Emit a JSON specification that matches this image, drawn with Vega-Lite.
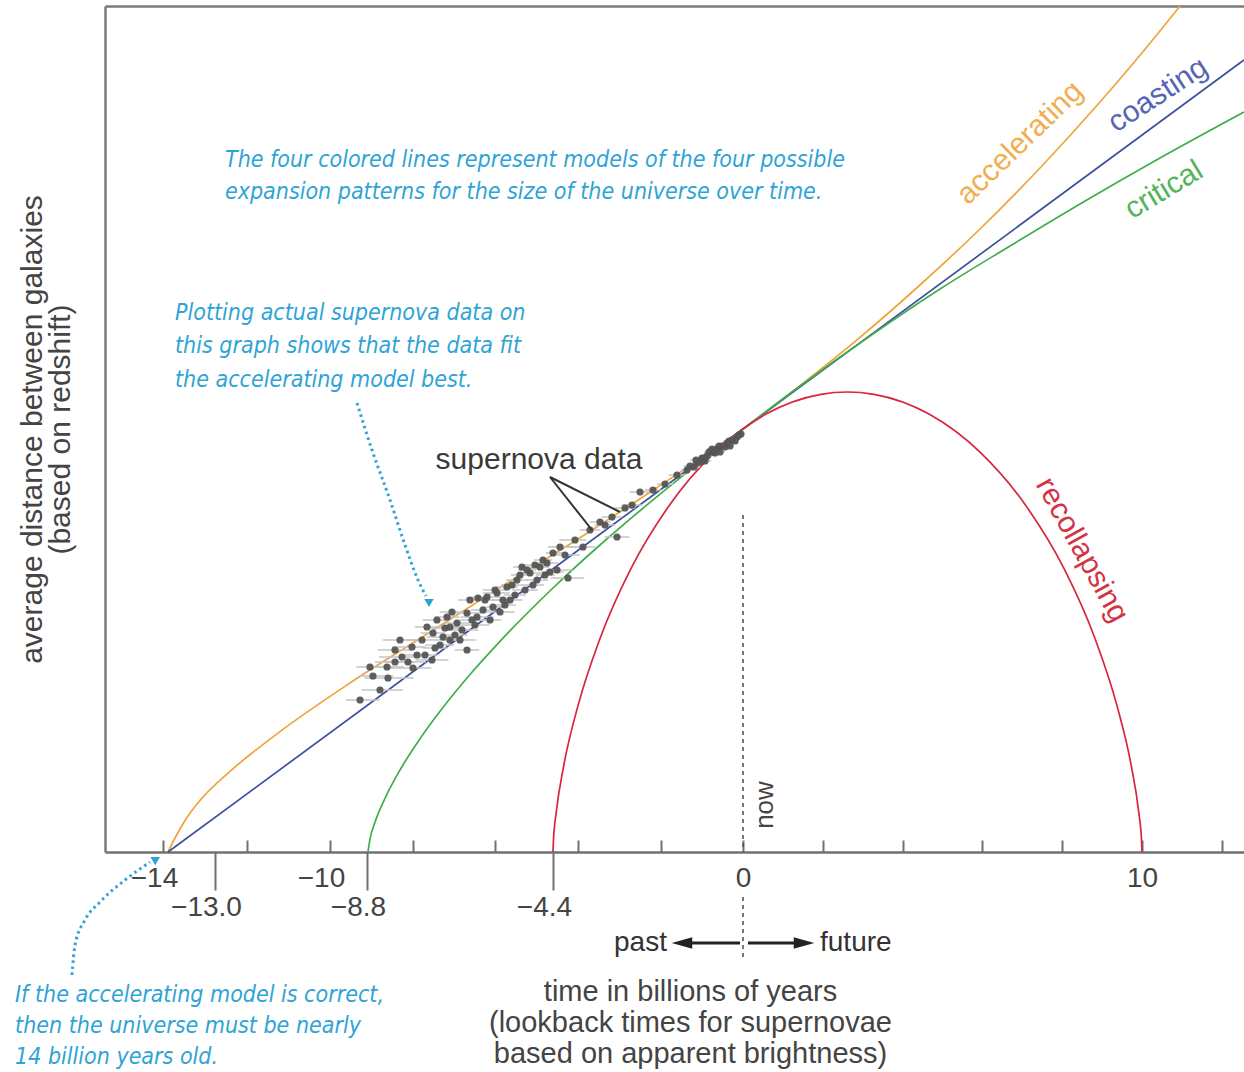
{
  "$schema": "https://vega.github.io/schema/vega-lite/v6.json",
  "width": 1139,
  "height": 846,
  "autosize": {"type": "none"},
  "padding": {"left": 105, "top": 6, "right": 0, "bottom": 220},
  "background": "white",
  "config": {"view": {"stroke": null}, "font": "Liberation Sans"},
  "datasets": {
    "models": [
      {"model":"accelerating","t":-13.904,"d":0},{"model":"accelerating","t":-13.769,"d":14},{"model":"accelerating","t":-13.577,"d":31.5},{"model":"accelerating","t":-13.288,"d":51.6},{"model":"accelerating","t":-12.531,"d":80.6},{"model":"accelerating","t":-11.205,"d":120.4},{"model":"accelerating","t":-9.351,"d":169},{"model":"accelerating","t":-7.829,"d":213.5},{"model":"accelerating","t":-5.862,"d":264.4},{"model":"accelerating","t":-3.952,"d":314.2},{"model":"accelerating","t":-2.265,"d":359.8},{"model":"accelerating","t":-1.049,"d":393.1},{"model":"accelerating","t":0,"d":423},{"model":"accelerating","t":1.429,"d":466.4},{"model":"accelerating","t":2.932,"d":514.6},{"model":"accelerating","t":4.436,"d":567},{"model":"accelerating","t":5.94,"d":623},{"model":"accelerating","t":7.444,"d":684},{"model":"accelerating","t":8.947,"d":750},{"model":"accelerating","t":10.45,"d":821},{"model":"accelerating","t":10.95,"d":846},
      {"model":"coasting","t":-13.904,"d":0},{"model":"coasting","t":0,"d":423},{"model":"coasting","t":12.55,"d":792},
      {"model":"critical","t":-8.783,"d":0},{"model":"critical","t":-8.748,"d":12.9},{"model":"critical","t":-8.661,"d":29.8},{"model":"critical","t":-8.487,"d":53.7},{"model":"critical","t":-8.226,"d":82},{"model":"critical","t":-7.829,"d":113.3},{"model":"critical","t":-7.341,"d":140.7},{"model":"critical","t":-6.61,"d":177.5},{"model":"critical","t":-5.862,"d":210.7},{"model":"critical","t":-4.4,"d":264},{"model":"critical","t":-3.47,"d":307},{"model":"critical","t":-2.265,"d":349.6},{"model":"critical","t":-1.049,"d":389.9},{"model":"critical","t":0,"d":423},{"model":"critical","t":1.429,"d":466},{"model":"critical","t":3.183,"d":516},{"model":"critical","t":4.937,"d":563},{"model":"critical","t":6.692,"d":606},{"model":"critical","t":8.446,"d":648},{"model":"critical","t":10.45,"d":694},{"model":"critical","t":12.55,"d":740},
      {"model":"recollapsing","t":-4.4,"d":0},{"model":"recollapsing","t":-4.394,"d":10.3},{"model":"recollapsing","t":-4.347,"d":40.2},{"model":"recollapsing","t":-4.226,"d":87},{"model":"recollapsing","t":-3.998,"d":146.6},{"model":"recollapsing","t":-3.467,"d":213.7},{"model":"recollapsing","t":-2.737,"d":282.3},{"model":"recollapsing","t":-1.807,"d":346.1},{"model":"recollapsing","t":-0.69,"d":399.6},{"model":"recollapsing","t":0,"d":423},{"model":"recollapsing","t":0.576,"d":437.9},{"model":"recollapsing","t":1.955,"d":457.7},{"model":"recollapsing","t":2.619,"d":460},{"model":"recollapsing","t":3.283,"d":457.7},{"model":"recollapsing","t":4.662,"d":437.9},{"model":"recollapsing","t":5.947,"d":399.6},{"model":"recollapsing","t":7.095,"d":346.1},{"model":"recollapsing","t":8.06,"d":282.3},{"model":"recollapsing","t":8.82,"d":213.7},{"model":"recollapsing","t":9.371,"d":146.6},{"model":"recollapsing","t":9.727,"d":87},{"model":"recollapsing","t":9.917,"d":40.2},{"model":"recollapsing","t":9.99,"d":10.3},{"model":"recollapsing","t":10,"d":0}
    ],
    "sn": [
      {"t":-9.027,"d":152,"t_lo":-9.477,"t_hi":-8.577},{"t":-8.748,"d":185,"t_lo":-9.148,"t_hi":-8.348},{"t":-8.696,"d":176,"t_lo":-9.046,"t_hi":-8.346},{"t":-8.452,"d":185,"t_lo":-8.752,"t_hi":-8.152},{"t":-8.435,"d":174,"t_lo":-8.885,"t_hi":-7.985},{"t":-8.226,"d":212,"t_lo":-8.526,"t_hi":-7.926},{"t":-8.191,"d":195,"t_lo":-8.591,"t_hi":-7.791},{"t":-8.017,"d":205,"t_lo":-8.367,"t_hi":-7.667},{"t":-7.902,"d":197,"t_lo":-8.202,"t_hi":-7.602},{"t":-8.0,"d":184,"t_lo":-8.45,"t_hi":-7.55},
      {"t":-7.537,"d":192,"t_lo":-7.937,"t_hi":-7.137},{"t":-7.659,"d":225,"t_lo":-7.959,"t_hi":-7.359},{"t":-7.415,"d":232,"t_lo":-7.765,"t_hi":-7.065},{"t":-7.512,"d":219,"t_lo":-7.812,"t_hi":-7.212},{"t":-7.268,"d":215,"t_lo":-7.668,"t_hi":-6.868},{"t":-7.171,"d":235,"t_lo":-7.471,"t_hi":-6.871},{"t":-7.098,"d":225,"t_lo":-7.448,"t_hi":-6.748},{"t":-6.927,"d":229,"t_lo":-7.227,"t_hi":-6.627},{"t":-6.805,"d":222,"t_lo":-7.205,"t_hi":-6.405},{"t":-6.683,"d":239,"t_lo":-7.033,"t_hi":-6.333},
      {"t":-6.61,"d":252,"t_lo":-6.91,"t_hi":-6.31},{"t":-6.439,"d":235,"t_lo":-6.839,"t_hi":-6.039},{"t":-6.293,"d":242,"t_lo":-6.593,"t_hi":-5.993},{"t":-6.195,"d":255,"t_lo":-6.545,"t_hi":-5.845},{"t":-6.049,"d":245,"t_lo":-6.349,"t_hi":-5.749},{"t":-5.945,"d":259,"t_lo":-6.295,"t_hi":-5.595},{"t":-5.862,"d":240,"t_lo":-6.262,"t_hi":-5.462},{"t":-5.669,"d":265,"t_lo":-5.969,"t_hi":-5.369},{"t":-5.586,"d":252,"t_lo":-5.936,"t_hi":-5.236},{"t":-5.393,"d":272,"t_lo":-5.693,"t_hi":-5.093},
      {"t":-5.255,"d":285,"t_lo":-5.505,"t_hi":-5.005},{"t":-5.172,"d":262,"t_lo":-5.522,"t_hi":-4.822},{"t":-5.034,"d":279,"t_lo":-5.334,"t_hi":-4.734},{"t":-4.841,"d":272,"t_lo":-5.141,"t_hi":-4.541},{"t":-4.759,"d":285,"t_lo":-5.009,"t_hi":-4.509},{"t":-4.566,"d":289,"t_lo":-4.816,"t_hi":-4.316},{"t":-4.4,"d":299,"t_lo":-4.6,"t_hi":-4.2},{"t":-4.336,"d":282,"t_lo":-4.586,"t_hi":-4.086},{"t":-7.098,"d":212,"t_lo":-7.448,"t_hi":-6.748},{"t":-6.683,"d":202,"t_lo":-6.983,"t_hi":-6.383},
      {"t":-4.288,"d":305,"t_lo":-4.538,"t_hi":-4.038},{"t":-3.88,"d":305,"t_lo":-4.18,"t_hi":-3.58},{"t":-3.711,"d":322,"t_lo":-3.961,"t_hi":-3.461},{"t":-4.16,"d":274,"t_lo":-4.46,"t_hi":-3.86},{"t":-3.181,"d":335,"t_lo":-3.431,"t_hi":-2.931},{"t":-3.06,"d":315,"t_lo":-3.36,"t_hi":-2.76},{"t":-2.506,"d":360,"t_lo":-2.756,"t_hi":-2.256},{"t":-2.193,"d":362,"t_lo":-2.393,"t_hi":-1.993},{"t":-1.61,"d":377,"t_lo":-1.81,"t_hi":-1.41},{"t":-1.366,"d":382,"t_lo":-1.516,"t_hi":-1.216},
      {"t":-1.122,"d":389,"t_lo":-1.272,"t_hi":-0.972},{"t":-1.0,"d":394,"t_lo":-1.15,"t_hi":-0.85},{"t":-0.878,"d":396,"t_lo":-0.998,"t_hi":-0.758},{"t":-0.756,"d":400,"t_lo":-0.876,"t_hi":-0.636},{"t":-0.634,"d":403,"t_lo":-0.754,"t_hi":-0.514},{"t":-0.512,"d":406,"t_lo":-0.612,"t_hi":-0.412},{"t":-0.39,"d":409,"t_lo":-0.49,"t_hi":-0.29},{"t":-0.268,"d":412,"t_lo":-0.368,"t_hi":-0.168},{"t":-0.146,"d":415,"t_lo":-0.226,"t_hi":-0.066},{"t":-0.049,"d":418,"t_lo":-0.099,"t_hi":0.001},
      {"t":-0.927,"d":391,"t_lo":-1.077,"t_hi":-0.777},{"t":-0.683,"d":399,"t_lo":-0.803,"t_hi":-0.563},{"t":-0.439,"d":405,"t_lo":-0.539,"t_hi":-0.339},{"t":-0.195,"d":411,"t_lo":-0.275,"t_hi":-0.115},{"t":-1.195,"d":385,"t_lo":-1.345,"t_hi":-1.045},{"t":-1.049,"d":390,"t_lo":-1.199,"t_hi":-0.899},{"t":-7.341,"d":207,"t_lo":-7.691,"t_hi":-6.991},{"t":-6.976,"d":217,"t_lo":-7.276,"t_hi":-6.676},{"t":-6.488,"d":227,"t_lo":-6.838,"t_hi":-6.138},{"t":-6.122,"d":232,"t_lo":-6.422,"t_hi":-5.822},
      {"t":-5.724,"d":247,"t_lo":-6.024,"t_hi":-5.424},{"t":-5.448,"d":257,"t_lo":-5.748,"t_hi":-5.148},{"t":-5.31,"d":277,"t_lo":-5.56,"t_hi":-5.06},{"t":-4.897,"d":287,"t_lo":-5.197,"t_hi":-4.597},{"t":-4.621,"d":277,"t_lo":-4.871,"t_hi":-4.371},{"t":-8.313,"d":190,"t_lo":-8.663,"t_hi":-7.963},{"t":-8.574,"d":162,"t_lo":-8.974,"t_hi":-8.174},{"t":-7.463,"d":204,"t_lo":-7.763,"t_hi":-7.163},{"t":-6.415,"d":254,"t_lo":-6.715,"t_hi":-6.115},{"t":-3.47,"d":330,"t_lo":-3.72,"t_hi":-3.22},
      {"t":-2.867,"d":344,"t_lo":-3.117,"t_hi":-2.617},{"t":-1.902,"d":368,"t_lo":-2.102,"t_hi":-1.702},
      {"t":-8.313,"d":202,"t_lo":-8.613,"t_hi":-8.013},{"t":-8.087,"d":190,"t_lo":-8.487,"t_hi":-7.687},{"t":-7.78,"d":212,"t_lo":-8.13,"t_hi":-7.43},{"t":-7.707,"d":197,"t_lo":-8.007,"t_hi":-7.407},{"t":-7.22,"d":224,"t_lo":-7.57,"t_hi":-6.87},{"t":-7.049,"d":240,"t_lo":-7.349,"t_hi":-6.749},{"t":-6.854,"d":212,"t_lo":-7.254,"t_hi":-6.454},{"t":-6.561,"d":232,"t_lo":-6.861,"t_hi":-6.261},{"t":-6.244,"d":252,"t_lo":-6.544,"t_hi":-5.944},{"t":-6.0,"d":262,"t_lo":-6.3,"t_hi":-5.7},
      {"t":-5.779,"d":252,"t_lo":-6.079,"t_hi":-5.479},{"t":-5.531,"d":267,"t_lo":-5.831,"t_hi":-5.231},{"t":-5.117,"d":282,"t_lo":-5.367,"t_hi":-4.867},{"t":-4.952,"d":267,"t_lo":-5.252,"t_hi":-4.652},{"t":-4.676,"d":292,"t_lo":-4.926,"t_hi":-4.426},{"t":-4.483,"d":280,"t_lo":-4.733,"t_hi":-4.233},{"t":-4.208,"d":297,"t_lo":-4.458,"t_hi":-3.958},{"t":-4.048,"d":312,"t_lo":-4.298,"t_hi":-3.798},{"t":-3.349,"d":327,"t_lo":-3.599,"t_hi":-3.099},{"t":-2.699,"d":347,"t_lo":-2.949,"t_hi":-2.449},
      {"t":-1.293,"d":386,"t_lo":-1.443,"t_hi":-1.143},{"t":-1.146,"d":392,"t_lo":-1.296,"t_hi":-0.996},{"t":-0.829,"d":400,"t_lo":-0.949,"t_hi":-0.709},{"t":-0.585,"d":406,"t_lo":-0.705,"t_hi":-0.465},{"t":-0.341,"d":411,"t_lo":-0.441,"t_hi":-0.241},{"t":-0.098,"d":417,"t_lo":-0.178,"t_hi":-0.018},{"t":-0.951,"d":394,"t_lo":-1.101,"t_hi":-0.801},{"t":-0.561,"d":400,"t_lo":-0.681,"t_hi":-0.441},{"t":-0.317,"d":406,"t_lo":-0.417,"t_hi":-0.217},{"t":-0.756,"d":403,"t_lo":-0.876,"t_hi":-0.636}
    ],
    "nowline": [{"t":0,"d":337,"d2":0},{"t":0,"d":-45,"d2":-108}],
    "pointers": [{"t1":-4.483,"d1":375,"t2":-2.988,"d2":340},{"t1":-4.483,"d1":375,"t2":-3.663,"d2":322}],
    "bluepaths": [
      {"arrow":"A","ord":1,"t":-9.124,"d":449},{"arrow":"A","ord":2,"t":-8.713,"d":402},{"arrow":"A","ord":3,"t":-8.4,"d":352},{"arrow":"A","ord":4,"t":-8.139,"d":307},{"arrow":"A","ord":5,"t":-7.878,"d":272},{"arrow":"A","ord":6,"t":-7.683,"d":256},
      {"arrow":"B","ord":1,"t":-16.197,"d":-123},{"arrow":"B","ord":2,"t":-16.124,"d":-93},{"arrow":"B","ord":3,"t":-15.883,"d":-68},{"arrow":"B","ord":4,"t":-15.521,"d":-50},{"arrow":"B","ord":5,"t":-14.917,"d":-28},{"arrow":"B","ord":6,"t":-14.314,"d":-10}
    ],
    "blueheadA": [{"t":-7.61,"d":249}],
    "blueheadB": [{"t":-14.16,"d":-7}],
    "bluenotes": [
      {"t":-12.6875,"d":692,"label":"The four colored lines represent models of the four possible"},
      {"t":-12.6875,"d":660,"label":"expansion patterns for the size of the universe over time."},
      {"t":-13.769,"d":539,"label":"Plotting actual supernova data on"},
      {"t":-13.769,"d":506,"label":"this graph shows that the data fit"},
      {"t":-13.769,"d":472,"label":"the accelerating model best."},
      {"t":-17.572,"d":-143,"label":"If the accelerating model is correct,"},
      {"t":-17.572,"d":-174,"label":"then the universe must be nearly"},
      {"t":-17.572,"d":-205,"label":"14 billion years old."}
    ],
    "snlabel": [{"t":-4.786,"d":392,"label":"supernova data"}],
    "lab_acc": [{"t":6.942,"d":709,"label":"accelerating"}],
    "lab_coast": [{"t":10.4,"d":757,"label":"coasting"}],
    "lab_crit": [{"t":10.55,"d":662,"label":"critical"}],
    "lab_recol": [{"t":8.496,"d":302,"label":"recollapsing"}],
    "lab_now": [{"t":0.551,"d":47,"label":"now"}],
    "lab_past": [{"t":-1.854,"d":-91,"label":"past"}],
    "lab_future": [{"t":1.93,"d":-91,"label":"future"}],
    "shafts": [{"t1":-0.073,"t2":-1.293,"d":-91},{"t1":0.125,"t2":1.303,"d":-91}],
    "headL": [{"t":-1.488,"d":-91}],
    "headR": [{"t":1.529,"d":-91}]
  },
  "resolve": {"axis": {"x": "independent", "y": "independent"}},
  "layer": [
    {
      "data": {"name": "models"},
      "mark": {"type": "line", "interpolate": "monotone", "strokeWidth": 1.7},
      "encoding": {
        "x": {"field": "t", "type": "quantitative",
          "scale": {"domain": [-15.4,-14,-13,-12,-10,-8.8,-8,-6,-4.4,-4,-2,0,10,12.55], "range": [0,58,110,142,225,262,308,390,448,473,556,638,1037,1139], "nice": false, "zero": false},
          "axis": {"orient": "bottom", "values": [-14,-12,-10,-8,-6,-4,-2,0,2,4,6,8,10,12], "tickSize": -12, "tickWidth": 2, "tickColor": "#707070", "domainColor": "#707070", "domainWidth": 2.5, "grid": false,
            "labelExpr": "datum.value == -14 ? '−14' : datum.value == -10 ? '−10' : datum.value == 0 ? '0' : datum.value == 10 ? '10' : ''",
            "labelFontSize": 28, "labelColor": "#444", "labelPadding": 24, "labelOffset": {"condition": {"test": "datum.value < 0", "value": -9}, "value": 0}, "labelFlush": false, "labelOverlap": false, "title": null}},
        "y": {"field": "d", "type": "quantitative", "scale": {"domain": [0, 846], "nice": false, "zero": false},
          "axis": {"orient": "left", "domain": true, "domainColor": "#7a7a7a", "domainWidth": 2.5, "ticks": false, "labels": false, "grid": false,
            "title": ["average distance between galaxies", "(based on redshift)"], "titleFontSize": 30, "titleFontWeight": "normal", "titleColor": "#444", "titleAngle": -90, "titleAlign": "center", "titleBaseline": "top", "titleX": -88, "titleY": 423, "titleLineHeight": 28}},
        "color": {"field": "model", "type": "nominal", "scale": {"domain": ["accelerating","coasting","critical","recollapsing"], "range": ["#f0a33a","#3d4f9f","#3fae49","#d7263d"]}, "legend": null}
      }
    },
    {
      "data": {"name": "sn"},
      "mark": {"type": "rule", "color": "#c4c4c4", "strokeWidth": 1.5},
      "encoding": {
        "x": {"field": "t_lo", "type": "quantitative",
          "scale": {"domain": [-15.4,-14,-13,-12,-10,-8.8,-8,-6,-4.4,-4,-2,0,10,12.55], "range": [0,58,110,142,225,262,308,390,448,473,556,638,1037,1139], "nice": false, "zero": false},
          "axis": {"orient": "top", "domain": true, "domainColor": "#7a7a7a", "domainWidth": 2.5, "ticks": false, "labels": false, "grid": false, "title": null}},
        "x2": {"field": "t_hi"},
        "y": {"field": "d", "type": "quantitative", "scale": {"domain": [0, 846], "nice": false, "zero": false}, "axis": null}
      }
    },
    {
      "data": {"name": "sn"},
      "mark": {"type": "point", "filled": true, "shape": "circle", "size": 52, "color": "#555555", "opacity": 0.95},
      "encoding": {
        "x": {"field": "t", "type": "quantitative", "scale": {"domain": [-15.4,-14,-13,-12,-10,-8.8,-8,-6,-4.4,-4,-2,0,10,12.55], "range": [0,58,110,142,225,262,308,390,448,473,556,638,1037,1139], "nice": false, "zero": false}, "axis": null},
        "y": {"field": "d", "type": "quantitative", "scale": {"domain": [0, 846], "nice": false, "zero": false}, "axis": null}
      }
    },
    {
      "data": {"name": "nowline"},
      "mark": {"type": "rule", "strokeDash": [4, 4], "strokeWidth": 1.6, "color": "#555"},
      "encoding": {
        "x": {"field": "t", "type": "quantitative",
          "scale": {"domain": [-15.4,-14,-13,-12,-10,-8.8,-8,-6,-4.4,-4,-2,0,10,12.55], "range": [0,58,110,142,225,262,308,390,448,473,556,638,1037,1139], "nice": false, "zero": false},
          "axis": {"orient": "bottom", "values": [-13, -8.8, -4.4], "tickSize": 38, "tickWidth": 2, "tickColor": "#707070", "domain": false, "grid": false,
            "labelExpr": "datum.value == -13 ? '−13.0' : datum.value == -8.8 ? '−8.8' : '−4.4'",
            "labelFontSize": 28, "labelColor": "#444", "labelPadding": 3, "labelOffset": -9, "labelFlush": false, "labelOverlap": false,
            "title": ["time in billions of years", "(lookback times for supernovae", "based on apparent brightness)"],
            "titleFontSize": 29, "titleFontWeight": "normal", "titleColor": "#444", "titleX": 585, "titleY": 148, "titleBaseline": "alphabetic", "titleAlign": "center", "titleAngle": 0, "titleLineHeight": 31}},
        "y": {"field": "d", "type": "quantitative", "scale": {"domain": [0, 846], "nice": false, "zero": false}, "axis": null},
        "y2": {"field": "d2"}
      }
    },
    {
      "data": {"name": "pointers"},
      "mark": {"type": "rule", "color": "#333", "strokeWidth": 2},
      "encoding": {
        "x": {"field": "t1", "type": "quantitative", "scale": {"domain": [-15.4,-14,-13,-12,-10,-8.8,-8,-6,-4.4,-4,-2,0,10,12.55], "range": [0,58,110,142,225,262,308,390,448,473,556,638,1037,1139], "nice": false, "zero": false}, "axis": null},
        "x2": {"field": "t2"},
        "y": {"field": "d1", "type": "quantitative", "scale": {"domain": [0, 846], "nice": false, "zero": false}, "axis": null},
        "y2": {"field": "d2"}
      }
    },
    {
      "data": {"name": "bluepaths"},
      "mark": {"type": "line", "interpolate": "monotone", "strokeDash": [2.5, 3.5], "strokeWidth": 3, "color": "#2ea3d6"},
      "encoding": {
        "x": {"field": "t", "type": "quantitative", "scale": {"domain": [-15.4,-14,-13,-12,-10,-8.8,-8,-6,-4.4,-4,-2,0,10,12.55], "range": [0,58,110,142,225,262,308,390,448,473,556,638,1037,1139], "nice": false, "zero": false}, "axis": null},
        "y": {"field": "d", "type": "quantitative", "scale": {"domain": [0, 846], "nice": false, "zero": false}, "axis": null},
        "detail": {"field": "arrow"},
        "order": {"field": "ord"}
      }
    },
    {
      "data": {"name": "blueheadA"},
      "mark": {"type": "point", "filled": true, "shape": "triangle-down", "size": 90, "color": "#2ea3d6", "opacity": 1},
      "encoding": {
        "x": {"field": "t", "type": "quantitative", "scale": {"domain": [-15.4,-14,-13,-12,-10,-8.8,-8,-6,-4.4,-4,-2,0,10,12.55], "range": [0,58,110,142,225,262,308,390,448,473,556,638,1037,1139], "nice": false, "zero": false}, "axis": null},
        "y": {"field": "d", "type": "quantitative", "scale": {"domain": [0, 846], "nice": false, "zero": false}, "axis": null}
      }
    },
    {
      "data": {"name": "blueheadB"},
      "mark": {"type": "point", "filled": true, "shape": "triangle-right", "angle": -30, "size": 90, "color": "#2ea3d6", "opacity": 1},
      "encoding": {
        "x": {"field": "t", "type": "quantitative", "scale": {"domain": [-15.4,-14,-13,-12,-10,-8.8,-8,-6,-4.4,-4,-2,0,10,12.55], "range": [0,58,110,142,225,262,308,390,448,473,556,638,1037,1139], "nice": false, "zero": false}, "axis": null},
        "y": {"field": "d", "type": "quantitative", "scale": {"domain": [0, 846], "nice": false, "zero": false}, "axis": null}
      }
    },
    {
      "data": {"name": "bluenotes"},
      "mark": {"type": "text", "align": "left", "baseline": "middle", "font": "'Liberation Sans Narrow', 'DejaVu Sans Condensed', sans-serif", "fontStyle": "italic", "fontSize": 23, "color": "#2ea3d6"},
      "encoding": {
        "x": {"field": "t", "type": "quantitative", "scale": {"domain": [-15.4,-14,-13,-12,-10,-8.8,-8,-6,-4.4,-4,-2,0,10,12.55], "range": [0,58,110,142,225,262,308,390,448,473,556,638,1037,1139], "nice": false, "zero": false}, "axis": null},
        "y": {"field": "d", "type": "quantitative", "scale": {"domain": [0, 846], "nice": false, "zero": false}, "axis": null},
        "text": {"field": "label"}
      }
    },
    {
      "data": {"name": "snlabel"},
      "mark": {"type": "text", "align": "center", "baseline": "middle", "fontSize": 30, "color": "#3a3a3a"},
      "encoding": {
        "x": {"field": "t", "type": "quantitative", "scale": {"domain": [-15.4,-14,-13,-12,-10,-8.8,-8,-6,-4.4,-4,-2,0,10,12.55], "range": [0,58,110,142,225,262,308,390,448,473,556,638,1037,1139], "nice": false, "zero": false}, "axis": null},
        "y": {"field": "d", "type": "quantitative", "scale": {"domain": [0, 846], "nice": false, "zero": false}, "axis": null},
        "text": {"field": "label"}
      }
    },
    {
      "data": {"name": "lab_acc"},
      "mark": {"type": "text", "align": "center", "baseline": "middle", "fontSize": 30, "angle": -44, "color": "#f2ad4e"},
      "encoding": {
        "x": {"field": "t", "type": "quantitative", "scale": {"domain": [-15.4,-14,-13,-12,-10,-8.8,-8,-6,-4.4,-4,-2,0,10,12.55], "range": [0,58,110,142,225,262,308,390,448,473,556,638,1037,1139], "nice": false, "zero": false}, "axis": null},
        "y": {"field": "d", "type": "quantitative", "scale": {"domain": [0, 846], "nice": false, "zero": false}, "axis": null},
        "text": {"field": "label"}
      }
    },
    {
      "data": {"name": "lab_coast"},
      "mark": {"type": "text", "align": "center", "baseline": "middle", "fontSize": 30, "angle": -33, "color": "#5565b3"},
      "encoding": {
        "x": {"field": "t", "type": "quantitative", "scale": {"domain": [-15.4,-14,-13,-12,-10,-8.8,-8,-6,-4.4,-4,-2,0,10,12.55], "range": [0,58,110,142,225,262,308,390,448,473,556,638,1037,1139], "nice": false, "zero": false}, "axis": null},
        "y": {"field": "d", "type": "quantitative", "scale": {"domain": [0, 846], "nice": false, "zero": false}, "axis": null},
        "text": {"field": "label"}
      }
    },
    {
      "data": {"name": "lab_crit"},
      "mark": {"type": "text", "align": "center", "baseline": "middle", "fontSize": 30, "angle": -31, "color": "#55b55a"},
      "encoding": {
        "x": {"field": "t", "type": "quantitative", "scale": {"domain": [-15.4,-14,-13,-12,-10,-8.8,-8,-6,-4.4,-4,-2,0,10,12.55], "range": [0,58,110,142,225,262,308,390,448,473,556,638,1037,1139], "nice": false, "zero": false}, "axis": null},
        "y": {"field": "d", "type": "quantitative", "scale": {"domain": [0, 846], "nice": false, "zero": false}, "axis": null},
        "text": {"field": "label"}
      }
    },
    {
      "data": {"name": "lab_recol"},
      "mark": {"type": "text", "align": "center", "baseline": "middle", "fontSize": 30, "angle": 61, "color": "#d33344"},
      "encoding": {
        "x": {"field": "t", "type": "quantitative", "scale": {"domain": [-15.4,-14,-13,-12,-10,-8.8,-8,-6,-4.4,-4,-2,0,10,12.55], "range": [0,58,110,142,225,262,308,390,448,473,556,638,1037,1139], "nice": false, "zero": false}, "axis": null},
        "y": {"field": "d", "type": "quantitative", "scale": {"domain": [0, 846], "nice": false, "zero": false}, "axis": null},
        "text": {"field": "label"}
      }
    },
    {
      "data": {"name": "lab_now"},
      "mark": {"type": "text", "align": "center", "baseline": "middle", "fontSize": 26, "angle": -90, "color": "#444"},
      "encoding": {
        "x": {"field": "t", "type": "quantitative", "scale": {"domain": [-15.4,-14,-13,-12,-10,-8.8,-8,-6,-4.4,-4,-2,0,10,12.55], "range": [0,58,110,142,225,262,308,390,448,473,556,638,1037,1139], "nice": false, "zero": false}, "axis": null},
        "y": {"field": "d", "type": "quantitative", "scale": {"domain": [0, 846], "nice": false, "zero": false}, "axis": null},
        "text": {"field": "label"}
      }
    },
    {
      "data": {"name": "lab_past"},
      "mark": {"type": "text", "align": "right", "baseline": "middle", "fontSize": 28, "color": "#333"},
      "encoding": {
        "x": {"field": "t", "type": "quantitative", "scale": {"domain": [-15.4,-14,-13,-12,-10,-8.8,-8,-6,-4.4,-4,-2,0,10,12.55], "range": [0,58,110,142,225,262,308,390,448,473,556,638,1037,1139], "nice": false, "zero": false}, "axis": null},
        "y": {"field": "d", "type": "quantitative", "scale": {"domain": [0, 846], "nice": false, "zero": false}, "axis": null},
        "text": {"field": "label"}
      }
    },
    {
      "data": {"name": "lab_future"},
      "mark": {"type": "text", "align": "left", "baseline": "middle", "fontSize": 28, "color": "#333"},
      "encoding": {
        "x": {"field": "t", "type": "quantitative", "scale": {"domain": [-15.4,-14,-13,-12,-10,-8.8,-8,-6,-4.4,-4,-2,0,10,12.55], "range": [0,58,110,142,225,262,308,390,448,473,556,638,1037,1139], "nice": false, "zero": false}, "axis": null},
        "y": {"field": "d", "type": "quantitative", "scale": {"domain": [0, 846], "nice": false, "zero": false}, "axis": null},
        "text": {"field": "label"}
      }
    },
    {
      "data": {"name": "shafts"},
      "mark": {"type": "rule", "color": "#222", "strokeWidth": 3},
      "encoding": {
        "x": {"field": "t1", "type": "quantitative", "scale": {"domain": [-15.4,-14,-13,-12,-10,-8.8,-8,-6,-4.4,-4,-2,0,10,12.55], "range": [0,58,110,142,225,262,308,390,448,473,556,638,1037,1139], "nice": false, "zero": false}, "axis": null},
        "x2": {"field": "t2"},
        "y": {"field": "d", "type": "quantitative", "scale": {"domain": [0, 846], "nice": false, "zero": false}, "axis": null}
      }
    },
    {
      "data": {"name": "headL"},
      "mark": {"type": "point", "filled": true, "shape": "M -1 0 L 1 -0.55 L 1 0.55 Z", "size": 420, "color": "#222", "opacity": 1},
      "encoding": {
        "x": {"field": "t", "type": "quantitative", "scale": {"domain": [-15.4,-14,-13,-12,-10,-8.8,-8,-6,-4.4,-4,-2,0,10,12.55], "range": [0,58,110,142,225,262,308,390,448,473,556,638,1037,1139], "nice": false, "zero": false}, "axis": null},
        "y": {"field": "d", "type": "quantitative", "scale": {"domain": [0, 846], "nice": false, "zero": false}, "axis": null}
      }
    },
    {
      "data": {"name": "headR"},
      "mark": {"type": "point", "filled": true, "shape": "M 1 0 L -1 -0.55 L -1 0.55 Z", "size": 420, "color": "#222", "opacity": 1},
      "encoding": {
        "x": {"field": "t", "type": "quantitative", "scale": {"domain": [-15.4,-14,-13,-12,-10,-8.8,-8,-6,-4.4,-4,-2,0,10,12.55], "range": [0,58,110,142,225,262,308,390,448,473,556,638,1037,1139], "nice": false, "zero": false}, "axis": null},
        "y": {"field": "d", "type": "quantitative", "scale": {"domain": [0, 846], "nice": false, "zero": false}, "axis": null}
      }
    }
  ]
}
